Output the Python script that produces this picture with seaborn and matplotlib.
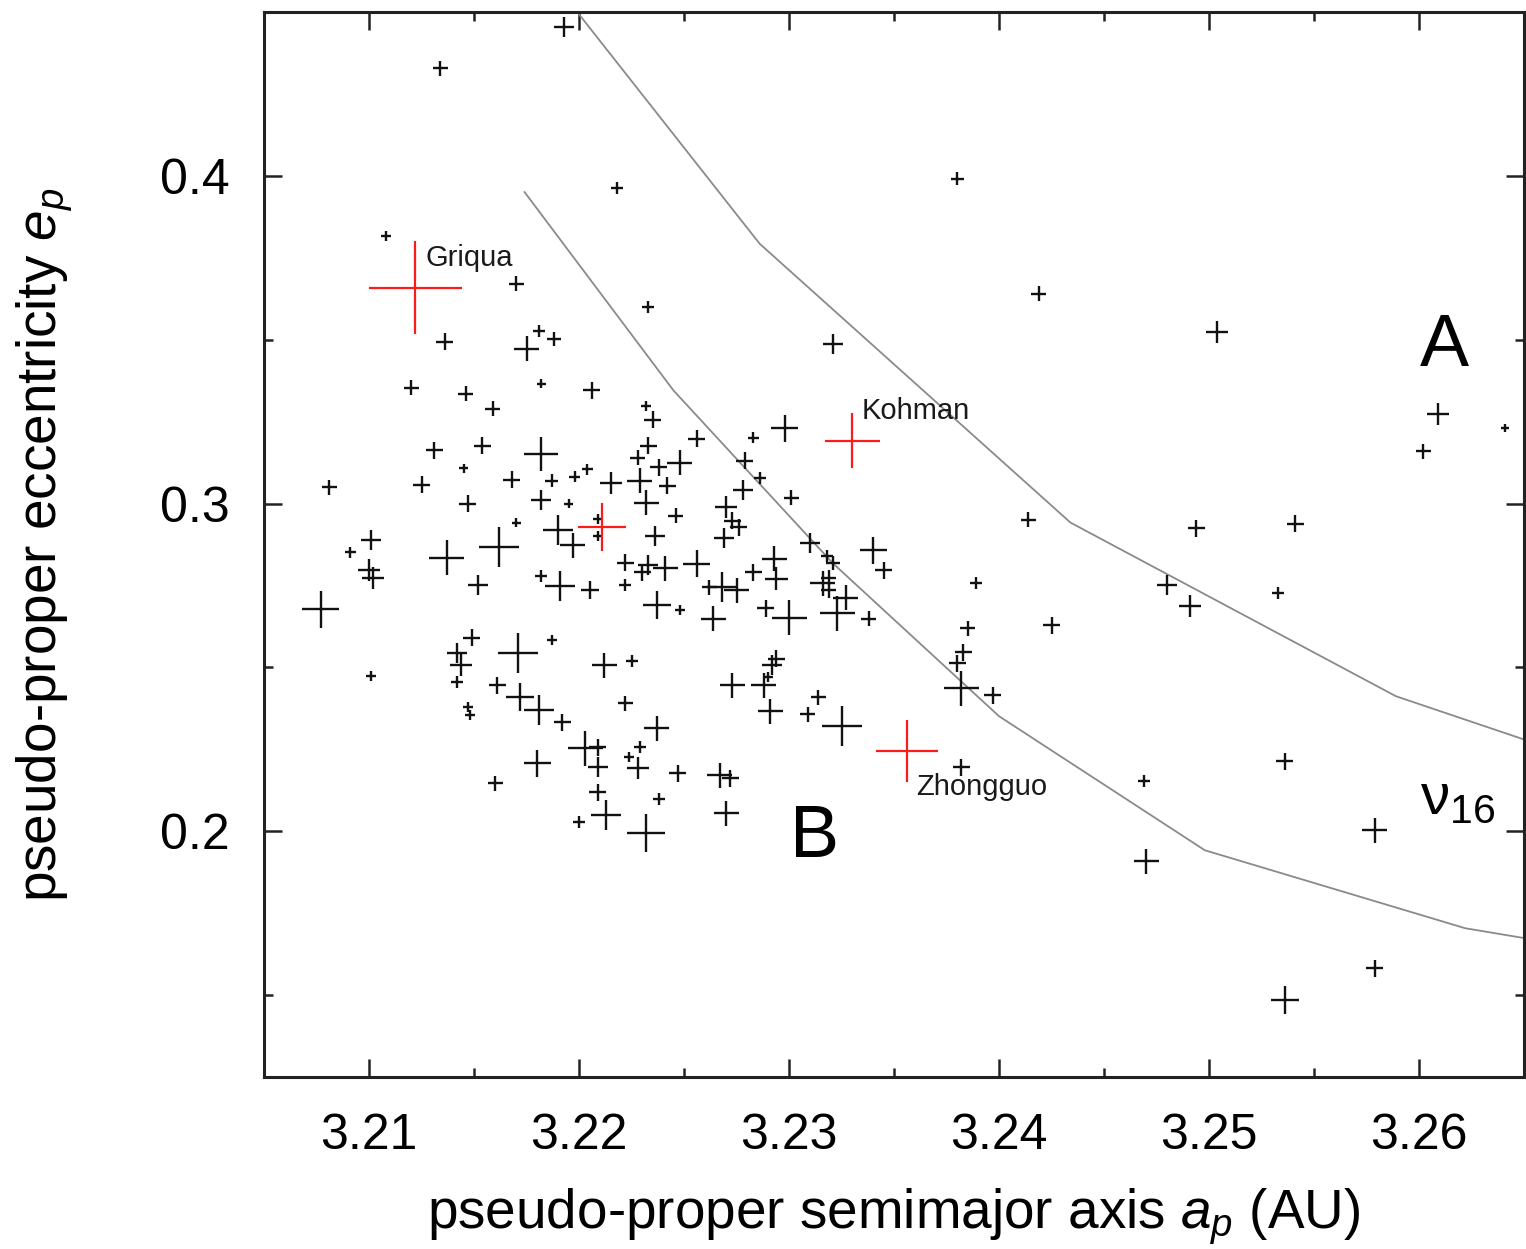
import matplotlib
matplotlib.use("Agg")
import matplotlib.pyplot as plt
from matplotlib.ticker import MultipleLocator, FixedLocator
import numpy as np
import pandas as pd
import seaborn as sns

# Pseudo-proper elements of family members (semimajor axis in AU, eccentricity)
a_p = [
    3.2193, 3.2134, 3.2218, 3.2380, 3.2108, 3.2170, 3.2233, 3.2321, 3.2419, 3.2504,
    3.2609, 3.2641, 3.2602, 3.2136, 3.2181, 3.2188, 3.2175, 3.2120, 3.2146, 3.2159,
    3.2182, 3.2206, 3.2131, 3.2154, 3.2182, 3.2145, 3.2081, 3.2125, 3.2168, 3.2187,
    3.2198, 3.2204, 3.2215, 3.2147, 3.2182, 3.2195, 3.2170, 3.2190, 3.2197, 3.2209,
    3.2209, 3.2101, 3.2091, 3.2100, 3.2102, 3.2137, 3.2162, 3.2152, 3.2182, 3.2191,
    3.2205, 3.2077, 3.2232, 3.2235, 3.2256, 3.2298, 3.2283, 3.2233, 3.2228, 3.2248,
    3.2238, 3.2242, 3.2229, 3.2232, 3.2279, 3.2286, 3.2278, 3.2301, 3.2270, 3.2273,
    3.2276, 3.2269, 3.2246, 3.2236, 3.2310, 3.2318, 3.2321, 3.2340, 3.2345, 3.2222,
    3.2233, 3.2230, 3.2241, 3.2256, 3.2283, 3.2293, 3.2294, 3.2222, 3.2268, 3.2275,
    3.2262, 3.2316, 3.2319, 3.2319, 3.2327, 3.2237, 3.2248, 3.2264, 3.2289, 3.2300,
    3.2323, 3.2338, 3.2149, 3.2187, 3.2171, 3.2142, 3.2144, 3.2101, 3.2142, 3.2212,
    3.2161, 3.2172, 3.2181, 3.2192, 3.2147, 3.2148, 3.2203, 3.2209, 3.2209, 3.2180,
    3.2160, 3.2209, 3.2213, 3.2200, 3.2294, 3.2292, 3.2290, 3.2288, 3.2273, 3.2225,
    3.2222, 3.2237, 3.2314, 3.2309, 3.2325, 3.2291, 3.2229, 3.2224, 3.2228, 3.2247,
    3.2267, 3.2272, 3.2238, 3.2232, 3.2270, 3.2382, 3.2382, 3.2397, 3.2389, 3.2385,
    3.2383, 3.2380, 3.2414, 3.2494, 3.2541, 3.2480, 3.2491, 3.2533, 3.2425, 3.2536,
    3.2469, 3.2579, 3.2470, 3.2579, 3.2536,
]
e_p = [
    0.4454, 0.4329, 0.3963, 0.3991, 0.3817, 0.3671, 0.3601, 0.3488, 0.3640, 0.3524,
    0.3274, 0.3229, 0.3159, 0.3494, 0.3527, 0.3503, 0.3473, 0.3354, 0.3335, 0.3290,
    0.3366, 0.3345, 0.3162, 0.3177, 0.3152, 0.3107, 0.3049, 0.3058, 0.3073, 0.3070,
    0.3082, 0.3104, 0.3064, 0.3000, 0.3012, 0.3000, 0.2942, 0.2918, 0.2872, 0.2954,
    0.2902, 0.2890, 0.2851, 0.2796, 0.2774, 0.2835, 0.2866, 0.2750, 0.2780, 0.2747,
    0.2735, 0.2677, 0.3299, 0.3256, 0.3198, 0.3229, 0.3201, 0.3177, 0.3140, 0.3125,
    0.3110, 0.3055, 0.3070, 0.3003, 0.3131, 0.3079, 0.3040, 0.3018, 0.2988, 0.2948,
    0.2927, 0.2896, 0.2963, 0.2902, 0.2881, 0.2841, 0.2820, 0.2857, 0.2796, 0.2820,
    0.2811, 0.2790, 0.2802, 0.2817, 0.2790, 0.2832, 0.2771, 0.2750, 0.2744, 0.2735,
    0.2744, 0.2756, 0.2774, 0.2735, 0.2713, 0.2689, 0.2674, 0.2649, 0.2680, 0.2652,
    0.2665, 0.2649, 0.2591, 0.2585, 0.2543, 0.2543, 0.2506, 0.2473, 0.2454, 0.2506,
    0.2445, 0.2409, 0.2369, 0.2332, 0.2378, 0.2354, 0.2253, 0.2256, 0.2195, 0.2207,
    0.2146, 0.2119, 0.2049, 0.2027, 0.2527, 0.2506, 0.2470, 0.2445, 0.2445, 0.2521,
    0.2390, 0.2314, 0.2409, 0.2357, 0.2320, 0.2366, 0.2256, 0.2226, 0.2192, 0.2177,
    0.2171, 0.2162, 0.2098, 0.1994, 0.2055, 0.2195, 0.2436, 0.2415, 0.2756, 0.2619,
    0.2546, 0.2512, 0.2951, 0.2924, 0.2939, 0.2750, 0.2686, 0.2726, 0.2628, 0.2213,
    0.2152, 0.2003, 0.1909, 0.1582, 0.1485,
]
# Relative body size of each member (sets the cross size)
body = [
    20, 15, 12, 13, 10, 15, 12, 20, 15, 22,
    22, 8, 15, 17, 12, 14, 25, 15, 15, 15,
    9, 17, 17, 17, 34, 9, 15, 17, 17, 13,
    11, 11, 22, 17, 20, 9, 9, 30, 25, 10,
    10, 20, 11, 22, 22, 35, 40, 20, 12, 30,
    18, 37, 10, 17, 17, 27, 11, 17, 15, 25,
    17, 17, 25, 25, 17, 12, 20, 15, 22, 17,
    17, 20, 15, 20, 20, 12, 14, 27, 17, 17,
    20, 17, 25, 27, 17, 25, 23, 12, 30, 25,
    15, 25, 15, 15, 25, 28, 10, 25, 17, 35,
    35, 15, 17, 10, 40, 20, 22, 10, 12, 25,
    17, 28, 30, 17, 10, 10, 35, 17, 20, 27,
    15, 17, 30, 12, 17, 20, 10, 25, 25, 12,
    15, 25, 15, 15, 40, 25, 12, 10, 22, 17,
    25, 17, 12, 38, 25, 17, 35, 17, 12, 15,
    17, 17, 15, 17, 17, 20, 22, 12, 17, 17,
    12, 25, 25, 17, 28,
]

# Highlighted bodies
named = ["Griqua", "Kohman", "Zhongguo", ""]
named_a = [3.2122, 3.2330, 3.2356, 3.2211]
named_e = [0.3659, 0.3192, 0.2244, 0.2927]
named_body = [93, 55, 62, 48]

# nu16 secular resonance borders
upper_a = [3.2193, 3.2286, 3.2434, 3.2589, 3.2650]
upper_e = [0.4550, 0.3793, 0.2942, 0.2412, 0.2280]
lower_a = [3.2174, 3.2245, 3.2321, 3.2400, 3.2498, 3.2622, 3.2650]
lower_e = [0.3951, 0.3345, 0.2817, 0.2351, 0.1942, 0.1704, 0.1674]

x_ticks = [3.21, 3.22, 3.23, 3.24, 3.25, 3.26]
y_ticks = [0.2, 0.3, 0.4]

sns.set_theme(style="ticks")
plt.rcParams["font.family"] = ["Liberation Sans", "DejaVu Sans"]
plt.rcParams["mathtext.fontset"] = "custom"
plt.rcParams["mathtext.rm"] = "Liberation Sans"
plt.rcParams["mathtext.it"] = "Liberation Sans:italic"
plt.rcParams["mathtext.bf"] = "Liberation Sans:bold"
plt.rcParams["text.color"] = "black"
plt.rcParams["axes.labelcolor"] = "black"

fig = plt.figure(figsize=(15.26, 12.49), dpi=100)
ax = fig.add_axes([0.1730, 0.1377, 0.8257, 0.8527])

members = pd.DataFrame({"a": a_p, "e": e_p, "area": np.square(body)})
special = pd.DataFrame({"a": named_a, "e": named_e, "area": np.square(named_body)})

# area in points^2 so that the cross width follows the body size
px2pt = 0.72 ** 2
amax = float(np.max(np.square(named_body)))

sns.lineplot(x=upper_a, y=upper_e, sort=False, estimator=None, color="#8a8a8a",
             linewidth=1.3, ax=ax)
sns.lineplot(x=lower_a, y=lower_e, sort=False, estimator=None, color="#8a8a8a",
             linewidth=1.3, ax=ax)

sns.scatterplot(data=members, x="a", y="e", size="area", sizes=(0, amax * px2pt),
                size_norm=(0, amax), marker="+", color="#111111", linewidth=1.7,
                legend=False, ax=ax, zorder=3)
sns.scatterplot(data=special, x="a", y="e", size="area", sizes=(0, amax * px2pt),
                size_norm=(0, amax), marker="+", color="#ff1a1a", linewidth=1.6,
                legend=False, ax=ax, zorder=4)

offsets = [(7.2, 15.8), (7.2, 15.8), (6.5, -31.7), (0, 0)]
for name, xa, ye, off in zip(named, named_a, named_e, offsets):
    if name:
        ax.annotate(name, xy=(xa, ye), xytext=off, textcoords="offset points",
                    ha="left", va="baseline", fontsize=21, color="#1a1a1a")

ax.text(3.2612, 0.3421, "A", fontsize=53, ha="center", va="baseline", color="black")
ax.text(3.2312, 0.1921, "B", fontsize=53, ha="center", va="baseline", color="black")
ax.text(3.26005, 0.2052, r"$\mathrm{\nu}_{16}$", fontsize=42, ha="left",
        va="baseline", color="black")

ax.set_xlim(3.205, 3.265)
ax.set_ylim(0.125, 0.45)
ax.xaxis.set_major_locator(FixedLocator(x_ticks))
ax.yaxis.set_major_locator(FixedLocator(y_ticks))
ax.xaxis.set_minor_locator(MultipleLocator(0.005))
ax.yaxis.set_minor_locator(MultipleLocator(0.05))
ax.set_xticklabels([f"{v:.2f}" for v in x_ticks])
ax.set_yticklabels([f"{v:.1f}" for v in y_ticks])

for side in ["left", "right", "top", "bottom"]:
    ax.spines[side].set_visible(True)
    ax.spines[side].set_linewidth(2.2)
    ax.spines[side].set_color("#222222")

ax.tick_params(axis="both", which="major", direction="in", length=13, width=1.8,
               top=True, right=True, labelsize=36, color="#222222", labelcolor="black")
ax.tick_params(axis="both", which="minor", direction="in", length=6.5, width=1.8,
               top=True, right=True, color="#222222")
ax.tick_params(axis="x", which="major", pad=26)
ax.tick_params(axis="y", which="major", pad=25)

ax.set_xlabel(r"pseudo-proper semimajor axis $a_p$ (AU)", fontsize=39.5)
ax.set_ylabel(r"pseudo-proper eccentricity $e_p$", fontsize=39.5)
ax.xaxis.set_label_coords(0.5, -0.103)
ax.yaxis.set_label_coords(-0.150, 0.5)

fig.savefig("out.png", dpi=100, facecolor="white")
